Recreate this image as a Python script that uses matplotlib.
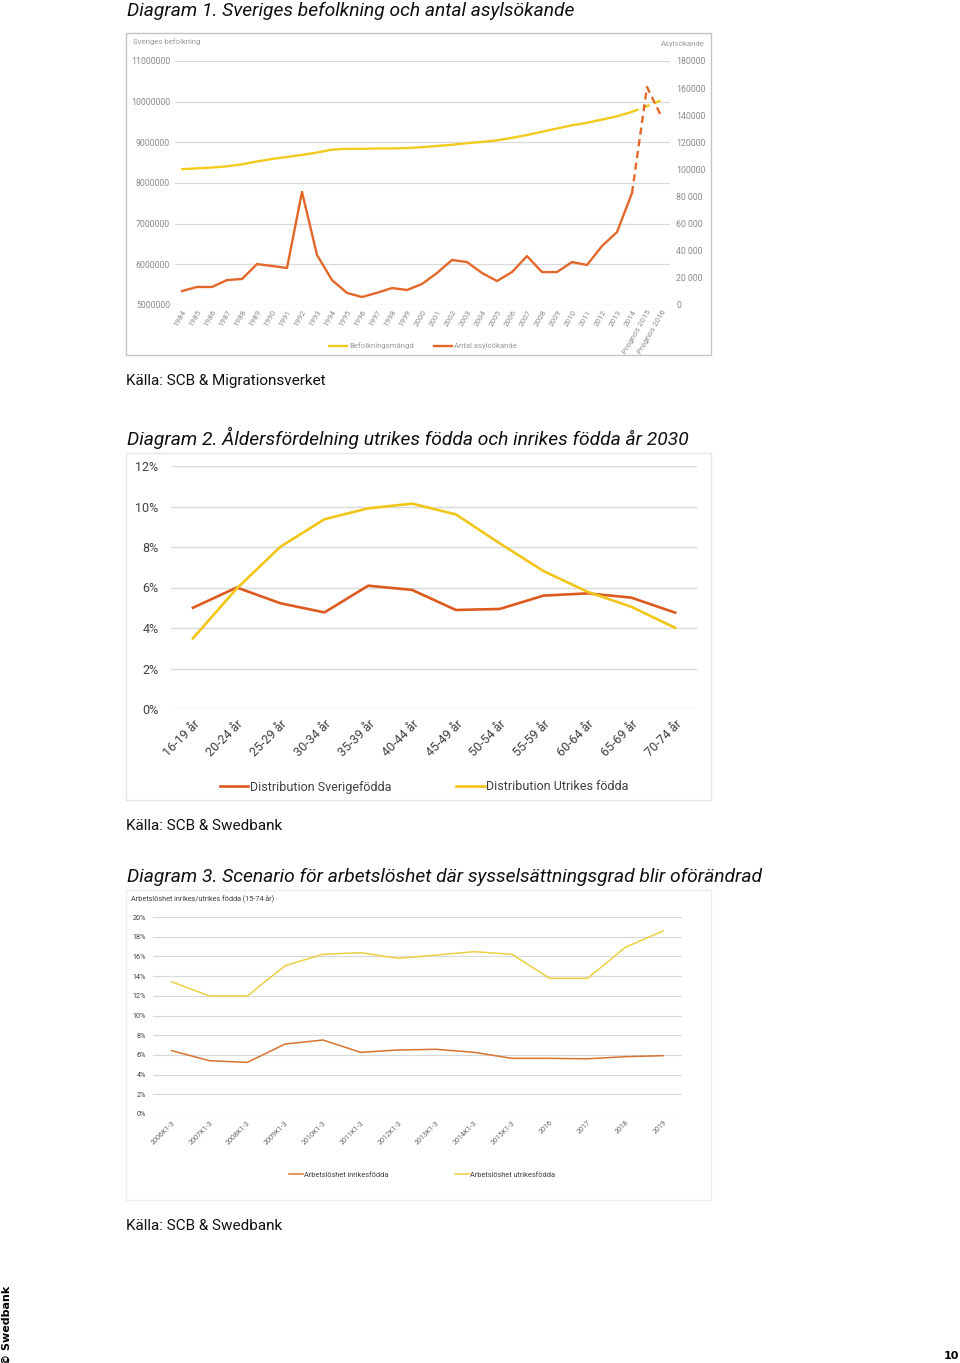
import matplotlib
matplotlib.use('Agg')
import matplotlib.pyplot as plt
from matplotlib.patches import Rectangle

W, H = 960, 1363

# ---- data, diagram 1 ----
years = [str(y) for y in range(1984, 2015)] + ['Prognos 2015', 'Prognos 2016']
befolkning = [8.34, 8.36, 8.38, 8.41, 8.46, 8.53, 8.59, 8.64, 8.69, 8.75, 8.82,
              8.84, 8.84, 8.85, 8.85, 8.86, 8.88, 8.91, 8.94, 8.98, 9.01, 9.05,
              9.11, 9.18, 9.26, 9.34, 9.42, 9.48, 9.56, 9.64, 9.75, 9.89, 10.04]
asyl = [10300, 13300, 13300, 18400, 19200, 30200, 28800, 27300, 83400, 36900,
        18400, 8900, 5900, 9000, 12500, 11100, 15500, 23600, 33200, 31700,
        23600, 17700, 24300, 36100, 24300, 24300, 31700, 29500, 43500, 53800,
        82600, 160800, 138000]
left_ticks = [5, 6, 7, 8, 9, 10, 11]
left_labels = ['5000000', '6000000', '7000000', '8000000', '9000000', '10000000', '11000000']
right_ticks = [0, 20000, 40000, 60000, 80000, 100000, 120000, 140000, 160000, 180000]
right_labels = ['0', '20 000', '40 000', '60 000', '80 000', '100000', '120000',
                '140000', '160000', '180000']

# ---- data, diagram 2 ----
ages = ['16-19 år', '20-24 år', '25-29 år', '30-34 år', '35-39 år', '40-44 år',
        '45-49 år', '50-54 år', '55-59 år', '60-64 år', '65-69 år', '70-74 år']
sverigefodda = [5.0, 6.0, 5.22, 4.77, 6.09, 5.88, 4.89, 4.94, 5.6, 5.71, 5.5, 4.76]
utrikesfodda = [3.49, 5.95, 8.02, 9.37, 9.91, 10.14, 9.61, 8.18, 6.81, 5.79, 5.05, 4.01]

# ---- data, diagram 3 ----
perioder = ['2006K1-3', '2007K1-3', '2008K1-3', '2009K1-3', '2010K1-3', '2011K1-3',
            '2012K1-3', '2013K1-3', '2014K1-3', '2015K1-3', '2016', '2017', '2018', '2019']
inrikes = [6.43, 5.41, 5.24, 7.1, 7.51, 6.26, 6.5, 6.57, 6.26, 5.65, 5.65, 5.6, 5.82, 5.92]
utrikes = [13.43, 11.98, 11.98, 15.06, 16.21, 16.38, 15.8, 16.14, 16.48, 16.21,
           13.77, 13.77, 16.92, 18.58]

YEL1 = '#F2CB1D'
ORA1 = '#E4672A'
YEL2 = '#F2C619'
ORA2 = '#DD5A1E'
YEL3 = '#EDD042'
ORA3 = '#D8722F'
GRID = '#d9d9d9'
TXT = '#404040'
FONT = ['Roboto', 'DejaVu Sans']


def rect(x0, y0, x1, y1):
    # pixel box -> figure fraction
    return [x0 / W, 1 - y1 / H, (x1 - x0) / W, (y1 - y0) / H]


def fx(x):
    return x / W


def fy(y):
    return 1 - y / H


def box(fig, x0, y0, x1, y1, col):
    fig.patches.append(Rectangle((fx(x0), fy(y1)), (x1 - x0) / W, (y1 - y0) / H,
                                 transform=fig.transFigure, fill=False,
                                 edgecolor=col, linewidth=1.0))


def clean(ax):
    for s in ax.spines.values():
        s.set_visible(False)
    ax.tick_params(length=0)


plt.rcParams['font.family'] = FONT
fig = plt.figure(figsize=(W / 100, H / 100), dpi=100)

# ================= Diagram 1 =================
fig.text(fx(127), fy(11), 'Diagram 1. Sveriges befolkning och antal asylsökande',
         fontsize=13.85, style='italic', va='center', ha='left', color='#111111')
box(fig, 126, 33, 711, 355, '#c4c4c4')

ax1 = fig.add_axes(rect(174.5, 61, 669.5, 305))
clean(ax1)
x = list(range(len(years)))
ax1.plot(x[:31], befolkning[:31], color=YEL1, lw=1.7, solid_capstyle='round')
ax1.plot(x[30:], befolkning[30:], color=YEL1, lw=1.7, ls=(0, (3, 2)))
ax1.set_ylim(5, 11)
ax1.set_xlim(-0.5, len(years) - 0.5)
ax1.set_yticks(left_ticks)
ax1.set_yticklabels(left_labels, fontsize=6.3, color='#8c8c8c')
ax1.tick_params(axis='y', pad=3.2)
ax1.grid(axis='y', color=GRID, lw=0.9)
ax1.set_axisbelow(True)
ax1.set_xticks(x)
ax1.set_xticklabels(years, rotation=60, ha='right', rotation_mode='anchor',
                    fontsize=5.8, color='#8c8c8c')
ax1.tick_params(axis='x', pad=3)

ax1b = ax1.twinx()
clean(ax1b)
ax1b.plot(x[:31], asyl[:31], color=ORA1, lw=1.7)
ax1b.plot(x[30:], asyl[30:], color=ORA1, lw=1.7, ls=(0, (3, 2)))
ax1b.set_ylim(0, 180000)
ax1b.set_yticks(right_ticks)
ax1b.set_yticklabels(right_labels, fontsize=6.3, color='#8c8c8c')
ax1b.tick_params(axis='y', pad=4.7)

fig.text(fx(133), fy(42), 'Sveriges befolkning', fontsize=5.6, color='#9a9a9a', va='center')
fig.text(fx(705), fy(44), 'Asylsökande', fontsize=5.6, color='#9a9a9a', va='center', ha='right')
h1 = [plt.Line2D([], [], color=YEL1, lw=1.7), plt.Line2D([], [], color=ORA1, lw=1.7)]
fig.legend(h1, ['Befolkningsmängd', 'Antal asylsökande'], loc='center',
           bbox_to_anchor=(fx(423), fy(346)), ncol=2, frameon=False, fontsize=5.6,
           labelcolor='#9a9a9a', handlelength=2.3, handletextpad=0.3, columnspacing=2.6)

fig.text(fx(126), fy(381), 'Källa: SCB & Migrationsverket', fontsize=11, va='center',
         color='#111111')

# ================= Diagram 2 =================
fig.text(fx(127), fy(438),
         'Diagram 2. Åldersfördelning utrikes födda och inrikes födda år 2030',
         fontsize=13.85, style='italic', va='center', ha='left', color='#111111')
box(fig, 126, 453, 711, 800, '#e6e6e6')

ax2 = fig.add_axes(rect(171, 466, 697, 709))
clean(ax2)
x2 = list(range(len(ages)))
ax2.plot(x2, sverigefodda, color=ORA2, lw=1.9, label='Distribution Sverigefödda')
ax2.plot(x2, utrikesfodda, color=YEL2, lw=1.9, label='Distribution Utrikes födda')
ax2.set_xlim(-0.5, len(ages) - 0.5)
ax2.set_ylim(0, 12)
ax2.set_yticks([0, 2, 4, 6, 8, 10, 12])
ax2.set_yticklabels(['0%', '2%', '4%', '6%', '8%', '10%', '12%'], fontsize=9, color=TXT)
ax2.tick_params(axis='y', pad=9)
ax2.grid(axis='y', color=GRID, lw=1.0)
ax2.set_axisbelow(True)
ax2.set_xticks(x2)
ax2.set_xticklabels(ages, rotation=45, ha='right', rotation_mode='anchor',
                    fontsize=9, color=TXT)
ax2.tick_params(axis='x', pad=6)
fig.legend(loc='center', bbox_to_anchor=(fx(424), fy(787)), ncol=2, frameon=False,
           fontsize=9, labelcolor=TXT, handlelength=2.3, handletextpad=0.1,
           columnspacing=5.2)

fig.text(fx(126), fy(826), 'Källa: SCB & Swedbank', fontsize=11, va='center',
         color='#111111')

# ================= Diagram 3 =================
fig.text(fx(127), fy(877),
         'Diagram 3. Scenario för arbetslöshet där sysselsättningsgrad blir oförändrad',
         fontsize=13.85, style='italic', va='center', ha='left', color='#111111')
box(fig, 126, 890, 711, 1200, '#ececec')
fig.text(fx(131), fy(899), 'Arbetslöshet inrikes/utrikes födda (15-74 år)',
         fontsize=5.2, color=TXT, va='center')

ax3 = fig.add_axes(rect(152.8, 917, 682, 1114))
clean(ax3)
x3 = list(range(len(perioder)))
ax3.plot(x3, inrikes, color=ORA3, lw=1.1)
ax3.plot(x3, utrikes, color=YEL3, lw=1.1)
ax3.set_xlim(-0.5, len(perioder) - 0.5)
ax3.set_ylim(0, 20)
ax3.set_yticks(range(0, 21, 2))
ax3.set_yticklabels([f'{v}%' for v in range(0, 21, 2)], fontsize=5.2, color=TXT)
ax3.tick_params(axis='y', pad=5)
ax3.grid(axis='y', color=GRID, lw=0.8)
ax3.set_axisbelow(True)
ax3.set_xticks(x3)
ax3.set_xticklabels(perioder, rotation=45, ha='right', rotation_mode='anchor',
                    fontsize=5.2, color='#666666')
ax3.tick_params(axis='x', pad=4)
h3 = [plt.Line2D([], [], color=ORA3, lw=1.1), plt.Line2D([], [], color=YEL3, lw=1.1)]
fig.legend(h3, ['Arbetslöshet inrikesfödda', 'Arbetslöshet utrikesfödda'], loc='center',
           bbox_to_anchor=(fx(422), fy(1175)), ncol=2, frameon=False, fontsize=5.3,
           labelcolor=TXT, handlelength=2.0, handletextpad=0.1, columnspacing=9.0)

fig.text(fx(126), fy(1226), 'Källa: SCB & Swedbank', fontsize=11, va='center',
         color='#111111')

# footer
fig.text(fx(7), fy(1325), '© Swedbank', rotation=90, fontsize=8, fontweight='bold',
         ha='center', va='center', family=['DejaVu Sans'])
fig.text(fx(959), fy(1356), '10', fontsize=8, fontweight='bold', ha='right', va='center',
         family=['DejaVu Sans'])

fig.savefig('out.png', dpi=100)
